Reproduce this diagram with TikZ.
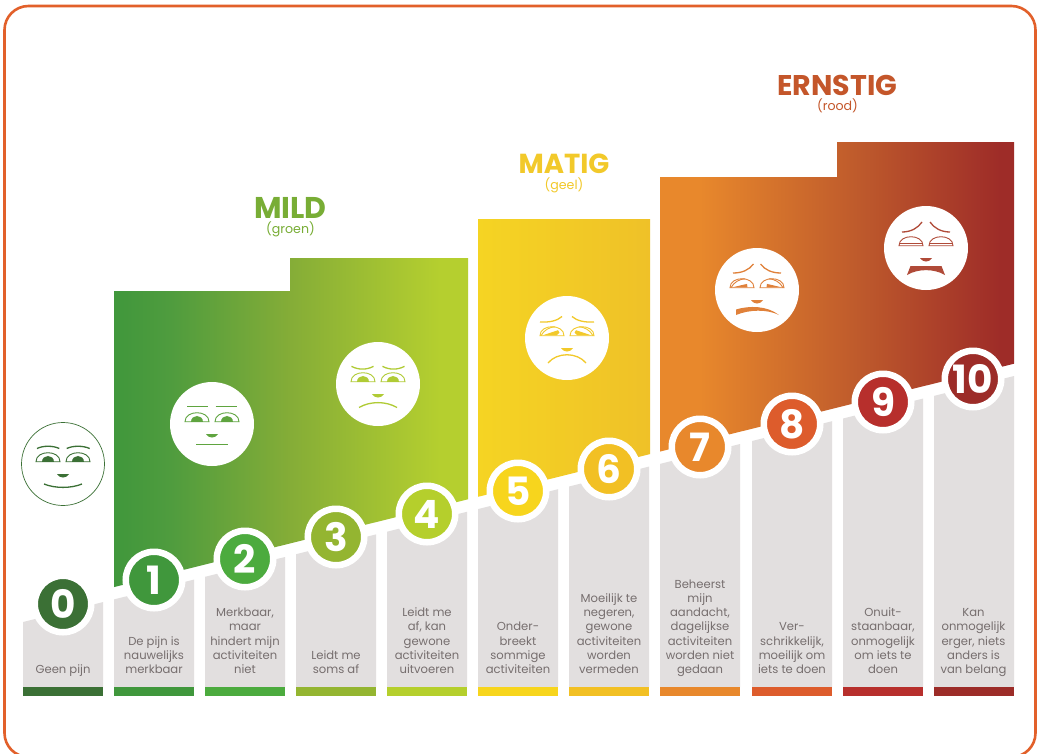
\documentclass[tikz,border=0pt]{standalone}
\usepackage{fontspec}
\setmainfont{Poppins}
\definecolor{frameC}{HTML}{E2602A}
\definecolor{greyC}{HTML}{E2DFDF}
\definecolor{txtC}{HTML}{766E6E}
\definecolor{c0}{HTML}{3B7035}
\definecolor{c1}{HTML}{40973C}
\definecolor{c2}{HTML}{4CAB3E}
\definecolor{c3}{HTML}{94B531}
\definecolor{c4}{HTML}{B5CF2C}
\definecolor{c5}{HTML}{F7D51D}
\definecolor{c6}{HTML}{F2C024}
\definecolor{c7}{HTML}{E8882C}
\definecolor{c8}{HTML}{DD5C2C}
\definecolor{c9}{HTML}{B72F2C}
\definecolor{c10}{HTML}{9C2C28}
\definecolor{fa}{HTML}{5FA43F}
\definecolor{fb}{HTML}{B0CB35}
\definecolor{fc}{HTML}{F2C92A}
\definecolor{fd}{HTML}{E0813A}
\definecolor{fe}{HTML}{B04A38}
\definecolor{ga}{HTML}{4F9C3E}
\definecolor{gb}{HTML}{85AD37}
\definecolor{gc}{HTML}{B5CF2F}
\definecolor{oa}{HTML}{BE5A2C}
\definecolor{ob}{HTML}{9E2C28}
\definecolor{ya}{HTML}{F5D423}
\definecolor{yb}{HTML}{EFC128}
\definecolor{tmildC}{HTML}{78AD35}
\definecolor{trnC}{HTML}{C4562A}
\pgfdeclarehorizontalshading{greenG}{100bp}{color(0bp)=(c1); color(25bp)=(c1); color(33bp)=(ga); color(50bp)=(gb); color(71bp)=(gc); color(100bp)=(gc)}
\pgfdeclarehorizontalshading{orangeG}{100bp}{color(0bp)=(c7); color(30.6bp)=(c7); color(53bp)=(oa); color(73bp)=(ob); color(100bp)=(ob)}
\tikzset{
  numcirc/.style={circle,draw=white,line width=6.5pt,minimum size=56.5pt,inner sep=0pt,text=white,font=\fontsize{39}{39}\selectfont\bfseries},
  facedisc/.style={circle,fill=white,minimum size=84pt,inner sep=0pt},
  coltxt/.style={anchor=south,inner sep=0pt,align=center,text=txtC,font=\fontsize{11.6}{14.3}\selectfont},
  bigtitle/.style={inner sep=0pt,font=\fontsize{28.5}{28.5}\selectfont\bfseries},
  subtitle/.style={inner sep=0pt,font=\fontsize{12.6}{12.6}\selectfont},
  fline/.style={line width=1.3pt},
  eyeline/.style={line width=.9pt},
  fcol/.style={color=black},
}
% eye: #1 x-centre, #2 mirror, #3 interior drawing
\newcommand\faceeye[3]{\begin{scope}[shift={(#1,-2.3)},xscale=#2]
  \draw[eyeline,fcol] (-12,0) .. controls (-12,-12) and (12,-12) .. (12,0) -- cycle;
  #3
\end{scope}}
\newcommand\nosemark{\fill[fcol] (-6,10.2) .. controls (-3,14.6) and (3,14.6) .. (6,10.2) -- cycle;}
\newcommand\openpupil{\fill[fcol] (-6,0) .. controls (-6,-7.6) and (6,-7.6) .. (6,0) -- cycle;}
\newcommand\slantpupil{\fill[fcol] (-9.5,-.3) -- (6,-5.5) -- (7.5,-3) -- (4.5,-.3) -- cycle;
  \draw[eyeline,fcol] (-11,0) .. controls (-8,-6) and (-2,-8.5) .. (3,-9);}
\newcommand\sadpupil{\fill[fcol] (-10,-.3) -- (5,-3.8) -- (5.5,-.3) -- cycle;
  \draw[eyeline,fcol] (-11,0) .. controls (-8,-6) and (-2,-8.5) .. (3,-9);}
\newcommand\closedpupil{\draw[line width=1pt,fcol] (-11.5,-1.8) -- (11.5,-1.8);}
\newcommand\coltext[3]{\node[coltxt] (#2) at (#1,678.3) {#3\strut};}
\newcommand\dig[1]{\raisebox{-1.2pt}{#1}}
\begin{document}
\begin{tikzpicture}[x=1pt,y=-1pt]
\useasboundingbox (0,0) rectangle (1039,753);
\clip (0,0) rectangle (1039,753);
\fill[white] (0,0) rectangle (1039,753);
\draw[frameC,line width=2.6pt,rounded corners=24pt] (4.5,6) rectangle (1035.5,757);
% gradient areas
\shade[shading=greenG] (114,291) -- (290,291) -- (290,258) -- (468,258) -- (468,499.3) -- (114,587.1) -- cycle;
\shade[left color=ya,right color=yb] (478,219) -- (650,219) -- (650,454.1) -- (478,496.8) -- cycle;
\shade[shading=orangeG] (660,177) -- (837,177) -- (837,142) -- (1014,142) -- (1014,363.7) -- (660,451.6) -- cycle;
% grey columns
\foreach \xa/\ya/\xb/\yb/\cc in {23/622/103/602.1/c0,114/599.4/194/579.6/c1,205/576.8/285/557/c2,296/554.2/376/534.4/c3,387/531.7/467/511.8/c4,478/509.1/558/489.2/c5,569/486.5/649/466.6/c6,660/463.9/740/444/c7,752/441/832/421.2/c8,843/418.5/923/398.6/c9,934/395.9/1014/376/c10}{
  \fill[greyC] (\xa,\ya) -- (\xb,\yb) -- (\xb,687) -- (\xa,687) -- cycle;
  \fill[\cc] (\xa,687) rectangle (\xb,696);
}
% column texts
\coltext{63}{t0}{Geen pijn}
\coltext{154}{t1}{De pijn is\\nauwelijks\\merkbaar}
\coltext{245}{t2}{Merkbaar,\\maar\\hindert mijn\\activiteiten\\niet}
\coltext{336}{t3}{Leidt me\\soms af}
\coltext{427}{t4}{Leidt me\\af, kan\\gewone\\activiteiten\\uitvoeren}
\coltext{518}{t5}{Onder-\\breekt\\sommige\\activiteiten}
\coltext{609}{t6}{Moeilijk te\\negeren,\\gewone\\activiteiten\\worden\\vermeden}
\coltext{700}{t7}{Beheerst\\mijn\\aandacht,\\dagelijkse\\activiteiten\\worden niet\\gedaan}
\coltext{792}{t8}{Ver-\\schrikkelijk,\\moeilijk om\\iets te doen}
\coltext{883}{t9}{Onuit-\\staanbaar,\\onmogelijk\\om iets te\\doen}
\coltext{973.5}{t10}{Kan\\onmogelijk\\erger, niets\\anders is\\van belang}
% number circles
\node[numcirc,fill=c0] (n0) at (63,604) {\dig{0}};
\node[numcirc,fill=c1] (n1) at (154,580) {\dig{1}};
\node[numcirc,fill=c2] (n2) at (245,559) {\dig{2}};
\node[numcirc,fill=c3] (n3) at (336,537) {\dig{3}};
\node[numcirc,fill=c4] (n4) at (427,514) {\dig{4}};
\node[numcirc,fill=c5] (n5) at (518,491) {\dig{5}};
\node[numcirc,fill=c6] (n6) at (609,469) {\dig{6}};
\node[numcirc,fill=c7] (n7) at (700,447) {\dig{7}};
\node[numcirc,fill=c8] (n8) at (792,424) {\dig{8}};
\node[numcirc,fill=c9] (n9) at (883,402) {\dig{9}};
\node[numcirc,fill=c10] (n10) at (973,379) {\dig{10}};
% titles
\node[bigtitle,text=tmildC,font=\fontsize{30}{30}\selectfont\bfseries] (tmild) at (290.5,208) {MILD};
\node[subtitle,text=tmildC] (smild) at (290.5,229) {(groen)};
\node[bigtitle,text=fc,font=\fontsize{27.5}{27.5}\selectfont\bfseries] (tmatig) at (564,164) {MATIG};
\node[subtitle,text=fc] (smatig) at (564,185) {(geel)};
\node[bigtitle,text=trnC] (terns) at (837.5,85) {ERNSTIG};
\node[subtitle,text=trnC] (srood) at (837.5,105.5) {(rood)};
% face 0
\node[facedisc,minimum size=83pt,draw=c0,line width=.7pt] (f0) at (63,464) {};
\begin{scope}[shift={(63,464)},fcol/.style={color=c0}]
  \faceeye{-15}{1}{\openpupil}
  \faceeye{15}{1}{\openpupil}
  \draw[fline,c0] (-26,-15.5) .. controls (-20,-18.5) and (-10,-18.5) .. (-3.7,-15.5);
  \draw[fline,c0] (3.7,-15.5) .. controls (10,-18.5) and (20,-18.5) .. (26.7,-15.5);
  \nosemark
  \draw[line width=1.3pt,c0] (-19,20) .. controls (-8,24.5) and (8,24.5) .. (19,20);
\end{scope}
% face 1
\node[facedisc] (f1) at (212,424) {};
\begin{scope}[shift={(212,424)},fcol/.style={color=fa}]
  \faceeye{-15}{1}{\openpupil}
  \faceeye{15}{1}{\openpupil}
  \draw[fline,fa] (-25,-17.5) -- (-3.7,-17.5);
  \draw[fline,fa] (3.7,-17.5) -- (25,-17.5);
  \nosemark
  \draw[line width=1.3pt,fa] (-16,20.7) -- (16,20.7);
\end{scope}
% face 3
\node[facedisc] (f3) at (378,384) {};
\begin{scope}[shift={(378,384)},fcol/.style={color=fb}]
  \faceeye{-15}{1}{\openpupil}
  \faceeye{15}{1}{\openpupil}
  \draw[fline,fb] (-26.5,-17.7) .. controls (-20,-14) and (-11,-14) .. (-4.5,-17.7);
  \draw[fline,fb] (4.5,-17.7) .. controls (11,-14) and (20,-14) .. (26.5,-17.7);
  \nosemark
  \draw[line width=1.3pt,fb] (-19,23.5) .. controls (-8,17) and (8,17) .. (19,23.5);
\end{scope}
% face 5
\node[facedisc] (f5) at (567,338) {};
\begin{scope}[shift={(567,338)},fcol/.style={color=fc}]
  \faceeye{-15}{1}{\slantpupil}
  \faceeye{15}{-1}{\slantpupil}
  \draw[fline,fc] (-27,-16) .. controls (-18,-15.5) and (-10,-17) .. (-5,-21.5);
  \draw[fline,fc] (27,-16) .. controls (18,-15.5) and (10,-17) .. (5,-21.5);
  \nosemark
  \draw[line width=1.3pt,fc] (-19,25) .. controls (-10,14) and (10,14) .. (19,25);
\end{scope}
% face 7
\node[facedisc] (f7) at (757,290) {};
\begin{scope}[shift={(757,290)},fcol/.style={color=fd}]
  \faceeye{-15}{1}{\sadpupil}
  \faceeye{15}{-1}{\sadpupil}
  \draw[fline,fd] (-24,-17) .. controls (-15,-17) and (-8,-20) .. (-3.5,-26);
  \draw[fline,fd] (24,-17) .. controls (15,-17) and (8,-20) .. (3.5,-26);
  \nosemark
  \fill[fd] (-21,19.5) .. controls (-8,15.5) and (10,15.5) .. (22,25) .. controls (10,19) and (-8,19.5) .. (-21,25) -- cycle;
\end{scope}
% face 10
\node[facedisc] (f10) at (926,248) {};
\begin{scope}[shift={(926,248)},fcol/.style={color=fe}]
  \faceeye{-15}{1}{\closedpupil}
  \faceeye{15}{1}{\closedpupil}
  \draw[fline,fe] (-24,-16) .. controls (-15,-16) and (-8,-20) .. (-4,-26);
  \draw[fline,fe] (24,-16) .. controls (15,-16) and (8,-20) .. (4,-26);
  \nosemark
  \fill[fe] (-15.5,18) -- (15.5,18) -- (19,27) .. controls (8,20.5) and (-8,20.5) .. (-19,27) -- cycle;
\end{scope}
\end{tikzpicture}
\end{document}
